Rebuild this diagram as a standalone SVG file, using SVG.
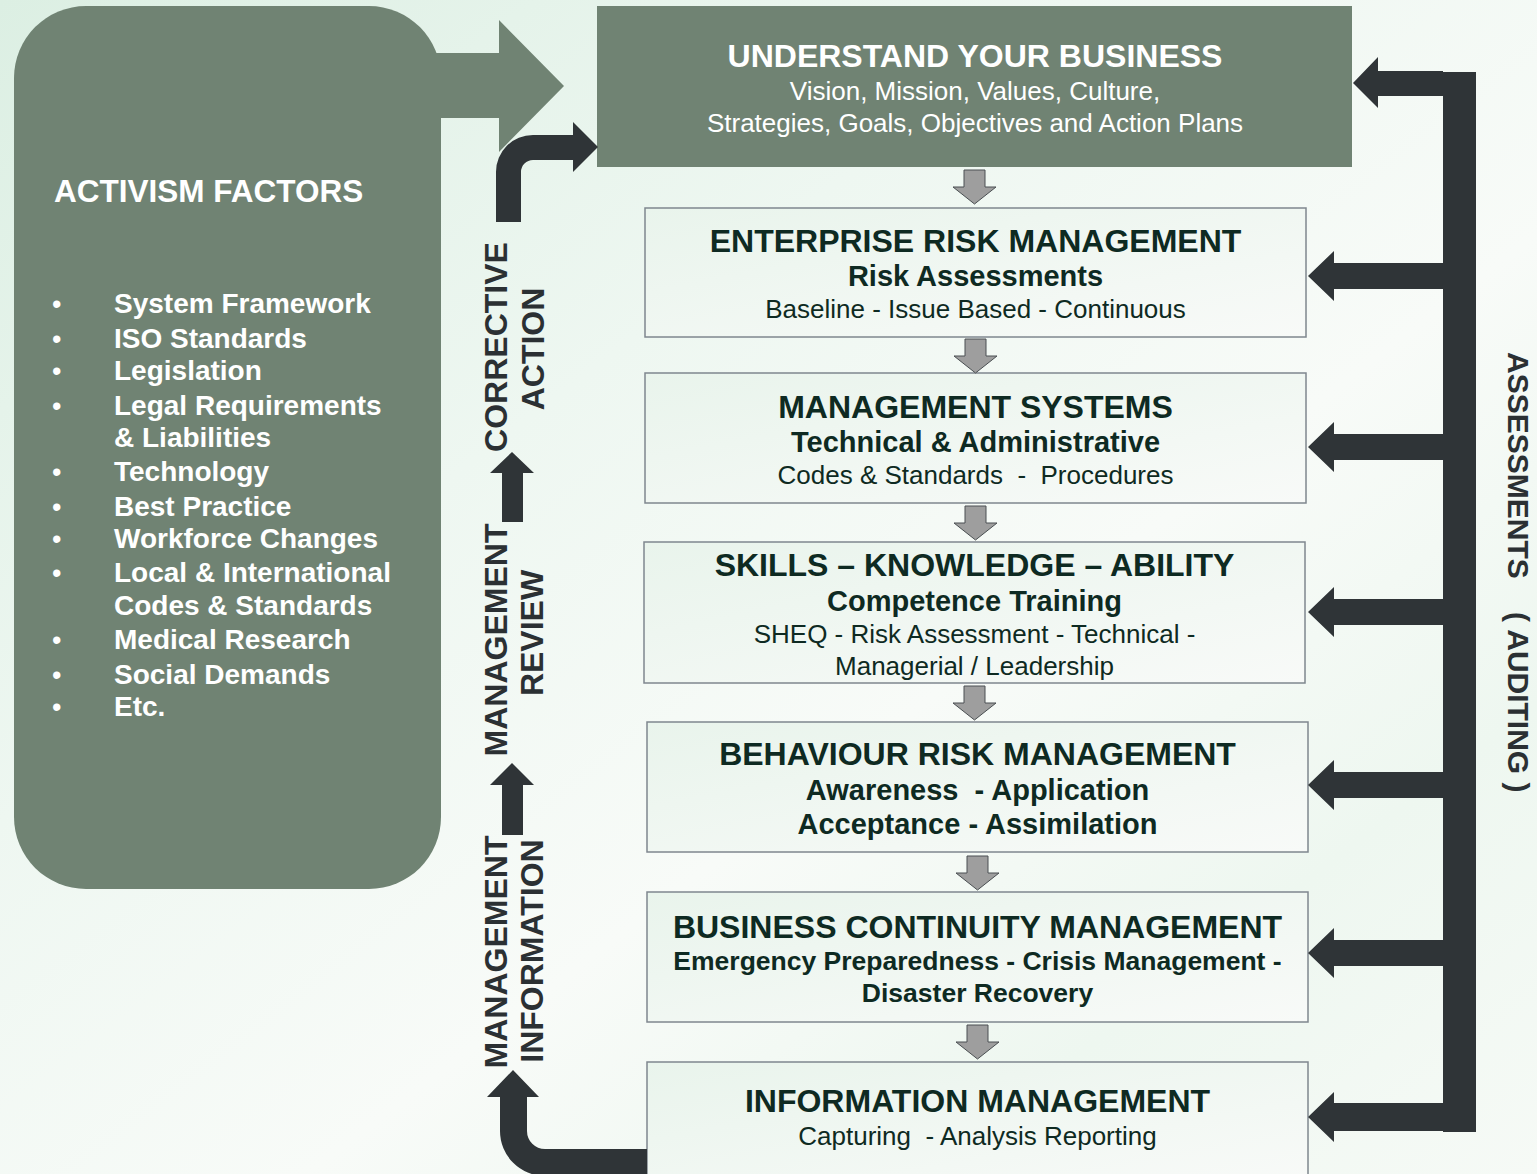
<svg xmlns="http://www.w3.org/2000/svg" width="1537" height="1174" viewBox="0 0 1537 1174">
<defs>
<linearGradient id="bg" x1="0" y1="0" x2="1" y2="1">
<stop offset="0" stop-color="#dcefe3"/>
<stop offset="0.35" stop-color="#eef7f1"/>
<stop offset="0.6" stop-color="#f8fbf8"/>
<stop offset="0.8" stop-color="#eef7f0"/>
<stop offset="1" stop-color="#f6faf6"/>
</linearGradient>
<linearGradient id="boxg" x1="0" y1="0" x2="1" y2="1">
<stop offset="0" stop-color="#e9f4ec"/>
<stop offset="1" stop-color="#f8faf8"/>
</linearGradient>
<style>
.panel{fill:#708373}
.box{fill:url(#boxg);stroke:#7f878e;stroke-width:1.5}
.dark{fill:#2f3437}
.gray{fill:#9e9e9e;stroke:#4a4f52;stroke-width:1}
text{font-family:"Liberation Sans",Arial,sans-serif}
.t{font-size:32px;font-weight:bold;fill:#0e2a22;text-anchor:middle}
.s{font-size:29px;font-weight:bold;fill:#0e2a22;text-anchor:middle}
.sb{font-size:26.5px;font-weight:bold;fill:#0e2a22;text-anchor:middle}
.d{font-size:26px;fill:#0e2a22;text-anchor:middle;white-space:pre}
.w{fill:#ffffff}
.li{font-size:28px;font-weight:bold;fill:#ffffff}
.bu{font-size:27px;fill:#ffffff}
.v{font-size:32px;font-weight:bold;fill:#2b3033;text-anchor:middle}
.r{font-size:30px;font-weight:bold;fill:#2b3033}
</style>
</defs>
<rect width="1537" height="1174" fill="url(#bg)"/>

<g id="activism-factors">
<rect class="panel" x="14" y="6" width="427" height="883" rx="72" ry="72"/>
<polygon class="panel" points="430,53 499,53 499,20 564,86 499,152 499,118 430,118"/>
<text x="54" y="202" class="w" style="font-size:31.5px;font-weight:bold">ACTIVISM FACTORS</text>
<g>
<text class="bu" x="52" y="313">•</text><text class="li" x="114" y="313">System Framework</text>
<text class="bu" x="52" y="348">•</text><text class="li" x="114" y="348">ISO Standards</text>
<text class="bu" x="52" y="380">•</text><text class="li" x="114" y="380">Legislation</text>
<text class="bu" x="52" y="415">•</text><text class="li" x="114" y="415">Legal Requirements</text>
<text class="li" x="114" y="447">&amp; Liabilities</text>
<text class="bu" x="52" y="481">•</text><text class="li" x="114" y="481">Technology</text>
<text class="bu" x="52" y="516">•</text><text class="li" x="114" y="516">Best Practice</text>
<text class="bu" x="52" y="548">•</text><text class="li" x="114" y="548">Workforce Changes</text>
<text class="bu" x="52" y="582">•</text><text class="li" x="114" y="582">Local &amp; International</text>
<text class="li" x="114" y="615">Codes &amp; Standards</text>
<text class="bu" x="52" y="649">•</text><text class="li" x="114" y="649">Medical Research</text>
<text class="bu" x="52" y="684">•</text><text class="li" x="114" y="684">Social Demands</text>
<text class="bu" x="52" y="716">•</text><text class="li" x="114" y="716">Etc.</text>
</g>
</g>

<g id="understand-business">
<rect class="panel" x="597" y="6" width="755" height="161"/>
<text class="t w" x="975" y="67">UNDERSTAND YOUR BUSINESS</text>
<text class="d w" x="975" y="100">Vision, Mission, Values, Culture,</text>
<text class="d w" x="975" y="132">Strategies, Goals, Objectives and Action Plans</text>
</g>

<g id="enterprise-risk">
<rect class="box" x="645" y="208" width="661" height="129"/>
<text class="t" x="975.5" y="252">ENTERPRISE RISK MANAGEMENT</text>
<text class="s" x="975.5" y="286">Risk Assessments</text>
<text class="d" x="975.5" y="318">Baseline - Issue Based - Continuous</text>
</g>

<g id="management-systems">
<rect class="box" x="645" y="373" width="661" height="130"/>
<text class="t" x="975.5" y="418">MANAGEMENT SYSTEMS</text>
<text class="s" x="975.5" y="452">Technical &amp; Administrative</text>
<text class="d" x="975.5" y="484">Codes &amp; Standards  -  Procedures</text>
</g>

<g id="skills">
<rect class="box" x="644" y="542" width="661" height="141"/>
<text class="t" x="974.5" y="576">SKILLS – KNOWLEDGE – ABILITY</text>
<text class="s" x="974.5" y="611">Competence Training</text>
<text class="d" x="974.5" y="643">SHEQ - Risk Assessment - Technical -</text>
<text class="d" x="974.5" y="675">Managerial / Leadership</text>
</g>

<g id="behaviour-risk">
<rect class="box" x="647" y="722" width="661" height="130"/>
<text class="t" x="977.5" y="765">BEHAVIOUR RISK MANAGEMENT</text>
<text class="s" x="977.5" y="800" style="white-space:pre">Awareness  - Application</text>
<text class="s" x="977.5" y="834">Acceptance - Assimilation</text>
</g>

<g id="business-continuity">
<rect class="box" x="647" y="892" width="661" height="130"/>
<text class="t" x="977.5" y="938">BUSINESS CONTINUITY MANAGEMENT</text>
<text class="sb" x="977.5" y="970">Emergency Preparedness - Crisis Management -</text>
<text class="sb" x="977.5" y="1002">Disaster Recovery</text>
</g>

<g id="information-management">
<rect class="box" x="647" y="1062" width="661" height="118"/>
<text class="t" x="977.5" y="1112">INFORMATION MANAGEMENT</text>
<text class="d" x="977.5" y="1145">Capturing  - Analysis Reporting</text>
</g>

<g id="connectors">
<g id="flow-arrows">
<polygon class="gray" points="964,170 985,170 985,187 996,187 974.5,204 953,187 964,187"/>
<polygon class="gray" points="965,339 986,339 986,356 997,356 975.5,373 954,356 965,356"/>
<polygon class="gray" points="965,506 986,506 986,523 997,523 975.5,540 954,523 965,523"/>
<polygon class="gray" points="964,686 985,686 985,703 996,703 974.5,720 953,703 964,703"/>
<polygon class="gray" points="967,856 988,856 988,873 999,873 977.5,890 956,873 967,873"/>
<polygon class="gray" points="967,1025 988,1025 988,1042 999,1042 977.5,1059 956,1042 967,1042"/>
</g>
<g id="assessments">
<rect class="dark" x="1443" y="72" width="33" height="1060"/>
<polygon class="dark" points="1443,71 1378,71 1378,57 1353,83 1378,108 1378,96 1443,96"/>
<polygon class="dark" points="1444,263 1334,263 1334,251 1308,276 1334,301 1334,289 1444,289"/>
<polygon class="dark" points="1444,434 1334,434 1334,422 1308,447 1334,472 1334,460 1444,460"/>
<polygon class="dark" points="1444,599 1334,599 1334,587 1308,612 1334,637 1334,625 1444,625"/>
<polygon class="dark" points="1444,772 1334,772 1334,760 1308,785 1334,810 1334,798 1444,798"/>
<polygon class="dark" points="1444,940 1334,940 1334,928 1308,953 1334,978 1334,966 1444,966"/>
<polygon class="dark" points="1444,1103 1334,1103 1334,1092 1308,1117 1334,1142 1334,1131 1444,1131"/>
</g>
<g id="feedback-loop">
<path class="dark" d="M647,1149 L545,1149 A18,18 0 0 1 527,1131 L527,1097 L539,1097 L513,1070 L487,1097 L500,1097 L500,1131 A45,45 0 0 0 545,1176 L647,1176 Z"/>
<polygon class="dark" points="502,835 502,785 490,785 512,763 534,785 523,785 523,835"/>
<polygon class="dark" points="502,522 502,473 490,473 512,452 534,473 523,473 523,522"/>
<path class="dark" d="M496,222 L496,172 A37,37 0 0 1 533,135 L573,135 L573,122 L598,147 L573,172 L573,160 L533,160 A12,12 0 0 0 521,172 L521,222 Z"/>
</g>
</g>

<g id="labels">
<text class="v" transform="translate(507,347) rotate(-90)">CORRECTIVE</text>
<text class="v" transform="translate(544,349) rotate(-90)">ACTION</text>
<text class="v" transform="translate(507,640) rotate(-90)">MANAGEMENT</text>
<text class="v" transform="translate(543,633) rotate(-90)">REVIEW</text>
<text class="v" transform="translate(507,952) rotate(-90)">MANAGEMENT</text>
<text class="v" transform="translate(543,951) rotate(-90)">INFORMATION</text>
<text class="r" transform="translate(1508,352) rotate(90)">ASSESSMENTS</text>
<text class="r" transform="translate(1508,612) rotate(90)">( AUDITING )</text>
</g>
</svg>
